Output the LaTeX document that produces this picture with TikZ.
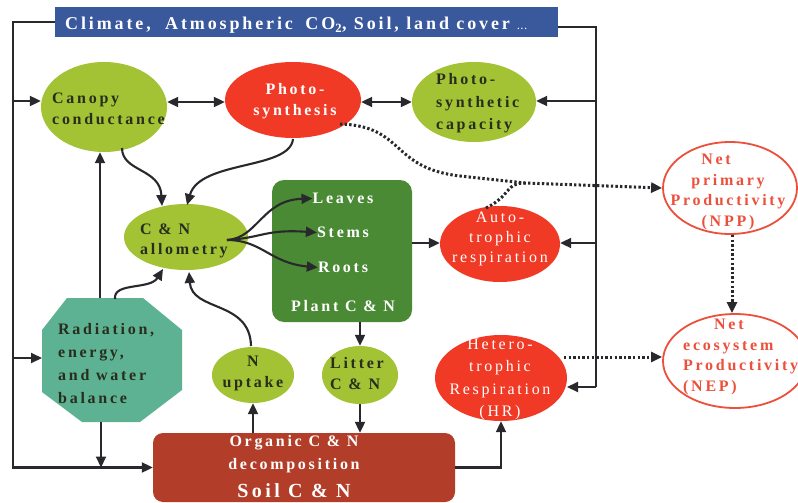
\documentclass[tikz,border=0pt]{standalone}
\usepackage{fontspec}
\setmainfont{Liberation Serif}
\newfontfamily\lsp[LetterSpace=17]{Liberation Serif}
\newfontfamily\tsp[LetterSpace=16]{Liberation Serif}
\usetikzlibrary{arrows.meta,shapes.geometric}
\definecolor{tblue}{RGB}{58,88,156}
\definecolor{lgreen}{RGB}{163,194,52}
\definecolor{pred}{RGB}{240,58,38}
\definecolor{dgreen}{RGB}{74,138,52}
\definecolor{cteal}{RGB}{94,178,148}
\definecolor{rust}{RGB}{178,62,42}
\definecolor{nred}{RGB}{236,80,60}
\definecolor{linec}{RGB}{40,40,45}
\definecolor{dtext}{RGB}{40,45,30}
\begin{document}
\begin{tikzpicture}[x=1pt,y=-1pt,
  ell/.style={ellipse, inner sep=0pt, draw=none},
  lbl/.style={inner sep=0pt, font=\lsp\bfseries\fontsize{16}{20.5}\selectfont, text=dtext, align=left},
  wlbl/.style={lbl, text=white, align=center},
  rlbl/.style={inner sep=0pt, font=\lsp\fontsize{16}{20.5}\selectfont, text=white, align=center},
  ln/.style={draw=linec, line width=2.1pt},
  arr/.style={ln, -{Triangle[length=11pt,width=10pt]}},
  darr/.style={ln, {Triangle[length=11pt,width=10pt]}-{Triangle[length=11pt,width=10pt]}},
  dots/.style={draw=linec, line width=3pt, dash pattern=on 2.4pt off 2.2pt},
  dotarr/.style={dots, -{Triangle[length=11pt,width=10pt]}}]
\useasboundingbox (0,0) rectangle (798,503);
\fill[white] (0,0) rectangle (798,503);

% title
\node[rectangle, fill=tblue, minimum width=503pt, minimum height=30pt, inner sep=0pt] (title) at (306.5,22) {};
\node[anchor=base west, inner sep=0pt, text=white, font=\tsp\bfseries\fontsize{18}{20}\selectfont] (ttext) at (65,29.5)
  {Climate,\hspace{7pt} Atmospheric\hspace{5pt} CO\textsubscript{2}, Soil, land cover {\fontsize{9}{9}\selectfont ...}};

% shapes
\node[ell, fill=lgreen, minimum width=126pt, minimum height=90pt] (canopy) at (104,107) {};
\node[ell, fill=pred, minimum width=136pt, minimum height=76pt] (photo) at (293,100) {};
\node[ell, fill=lgreen, minimum width=124pt, minimum height=80pt] (cap) at (474,102) {};
\node[ell, fill=lgreen, minimum width=124pt, minimum height=66pt] (allo) at (186,237) {};
\node[ell, fill=lgreen, minimum width=82pt, minimum height=56pt] (nup) at (253,375) {};
\node[ell, fill=lgreen, minimum width=76pt, minimum height=58pt] (litter) at (360,375) {};
\node[ell, fill=pred, minimum width=120pt, minimum height=76pt] (auto) at (500,244) {};
\node[ell, fill=pred, minimum width=132pt, minimum height=86pt] (hr) at (501,378) {};
\node[ell, draw=nred, line width=1.8pt, fill=white, minimum width=134pt, minimum height=92pt] (npp) at (730,188) {};
\node[ell, draw=nred, line width=1.8pt, fill=white, minimum width=144pt, minimum height=94pt] (nep) at (735,361) {};
\node[rectangle, rounded corners=12pt, fill=dgreen, minimum width=140pt, minimum height=142pt, inner sep=0pt] (plant) at (342,251) {};
\node[rectangle, rounded corners=10pt, fill=rust, minimum width=302pt, minimum height=69pt, inner sep=0pt] (soil) at (304,467.5) {};
\fill[cteal] (67,298) -- (143,298) -- (182,330) -- (182,390) -- (140,422) -- (82,422) -- (42,392) -- (42,330) -- cycle;
\coordinate (rad) at (112,360);
\coordinate (radW) at (42,358);
\coordinate (radT) at (100,298);
\coordinate (radT2) at (115,299);
\coordinate (radB) at (101,422);

% labels
\node[lbl, anchor=west] at (52,109) {Canopy\\conductance};
\node[wlbl, font=\lsp\bfseries\fontsize{16}{21}\selectfont] at (295,101) {Photo-\\synthesis};
\node[lbl, anchor=west, font=\lsp\bfseries\fontsize{16}{22.5}\selectfont] at (436,103.5) {Photo-\\synthetic\\capacity};
\node[lbl, anchor=west] at (140,241) {C \& N\\allometry};
\node[wlbl] (leaves) at (343,198.5) {Leaves};
\node[wlbl] (stems) at (343,232.5) {Stems};
\node[wlbl] (roots) at (343,267.5) {Roots};
\node[wlbl] at (343,306) {Plant C \& N};
\node[lbl, anchor=west, font=\lsp\bfseries\fontsize{16}{23}\selectfont] at (58,363.5) {Radiation,\\energy,\\and water\\balance};
\node[lbl, align=center] at (253,373.5) {N\\uptake};
\node[lbl, anchor=west] at (330,373.5) {Litter\\C \& N};
\node[wlbl, font=\lsp\bfseries\fontsize{16}{23}\selectfont] at (294,454) {Organic C \& N\\decomposition};
\node[wlbl, font=\lsp\bfseries\fontsize{20}{20}\selectfont] at (294,491) {Soil C \& N};
\node[rlbl, font=\lsp\fontsize{16}{20}\selectfont] at (500,239) {Auto-\\trophic\\respiration};
\node[rlbl, font=\lsp\fontsize{16}{22.3}\selectfont] at (500,379.5) {Hetero-\\trophic\\Respiration\\(HR)};
\node[lbl, align=center, text=nred, font=\lsp\bfseries\fontsize{16}{20.7}\selectfont] at (728,192) {\hspace*{-24pt}Net\\primary\\Productivity\\(NPP)};
\node[lbl, align=left, text=nred, font=\lsp\bfseries\fontsize{16}{20.7}\selectfont, anchor=west] at (683,357) {\hspace*{31pt}Net\\ecosystem\\Productivity\\(NEP)};

% frame lines
\draw[arr] (title.west) -- ++(-42,0) |- (soil.west);
\coordinate (lc) at (13,101);
\coordinate (lr) at (13,358);
\draw[arr] (lc) -- (lc -| canopy.west);
\draw[arr] (lr) -- (radW);
\coordinate (R1) at (596,101);
\coordinate (R2) at (596,243);
\coordinate (R3) at (596,387);
\draw[ln] ([yshift=-5pt]title.east) -| (R3);
\draw[arr] (R1) -- (R1 -| cap.east);
\draw[arr] (R2) -- (R2 -| auto.east);
\draw[arr] (R3) -- (567,387);

% double arrows
\draw[darr] (canopy.east |- 0,102) -- (photo.west |- 0,102);
\draw[darr] (photo.east |- 0,102) -- (cap.west |- 0,102);

% radiation
\draw[arr] (radT) -- (radT |- canopy.south);
\draw[arr] (radB) -- (radB |- soil.west);
\draw[arr] (radT2) .. controls (113,282) and (150,290) .. (163,269);

% to allometry
\draw[arr] (122,148) .. controls (122,172) and (160,168) .. (162,206);
\draw[arr] (293,139) .. controls (290,170) and (200,160) .. (187,205);
\draw[arr] (251,346) .. controls (250,300) and (192,312) .. (189,272);

% allometry to organs
\draw[arr] (227,240) .. controls (258,238) and (262,200) .. (leaves.west);
\draw[arr] (227,240) .. controls (262,238) and (265,229) .. (stems.west);
\draw[arr] (227,240) .. controls (262,240) and (270,263) .. (roots.west);

% plant and soil
\draw[arr] (litter |- plant.south) -- (litter.north);
\draw[arr] (litter.south) -- (litter |- soil.north);
\draw[arr] (nup |- soil.north) -- (nup.south);
\draw[arr] (plant.east |- 0,243) -- (auto.west |- 0,243);
\draw[arr] (soil.east) -| (hr.south);

% dotted
\coordinate (jn) at (525,183);
\draw[dotarr] (340,124) .. controls (405,126) and (390,168) .. (460,176) -- (jn) -- (npp.west);
\draw[dots] (486,208) .. controls (512,195) and (505,183) .. (jn);
\draw[dotarr] (npp.south -| 732,0) -- (nep.north -| 732,0);
\draw[dotarr] (564,357) -- (nep.west |- 0,357);
\end{tikzpicture}
\end{document}
